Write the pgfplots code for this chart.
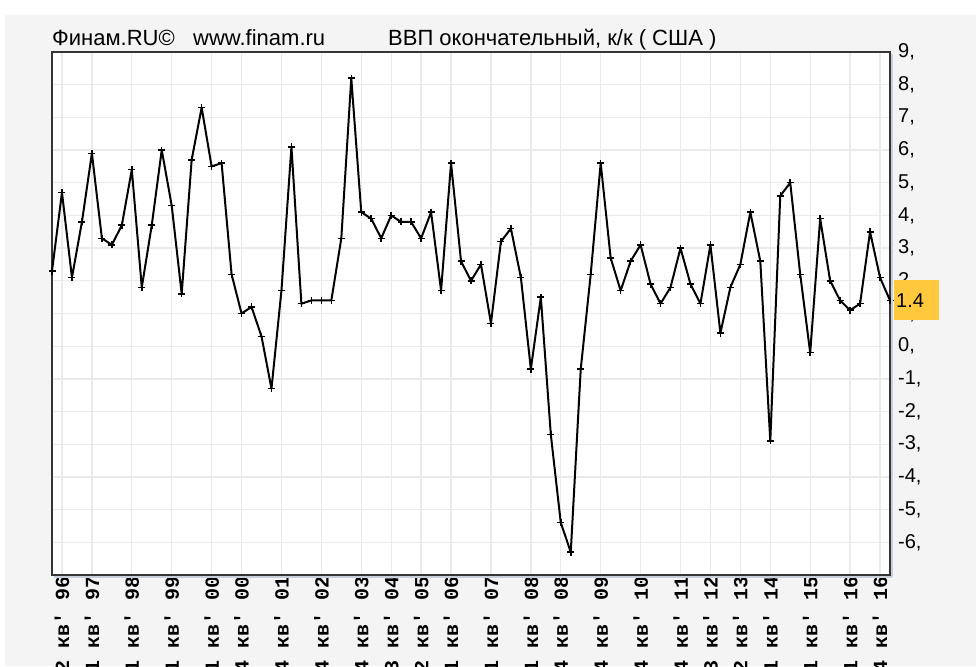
\documentclass[border=0pt]{standalone}
\usepackage{pgfplots}
\pgfplotsset{compat=1.18}
\usepackage{fontspec}
\setmainfont{Liberation Sans}
\newfontfamily\monof{Liberation Mono}
\definecolor{bg}{HTML}{F4F4F4}
\definecolor{gridc}{HTML}{EAEAEA}
\definecolor{framec}{HTML}{353535}
\definecolor{gold}{HTML}{FFC83D}
\definecolor{shadowc}{HTML}{C9CFD8}
\newcommand{\ql}[2]{#1 кв\textquotesingle\ #2}

\pgfplotstableread{
k v
0 2.3
1 4.7
2 2.1
3 3.8
4 5.9
5 3.3
6 3.1
7 3.7
8 5.4
9 1.8
10 3.7
11 6.0
12 4.3
13 1.6
14 5.7
15 7.3
16 5.5
17 5.6
18 2.2
19 1.0
20 1.2
21 0.3
22 -1.3
23 1.7
24 6.1
25 1.3
26 1.4
27 1.4
28 1.4
29 3.3
30 8.2
31 4.1
32 3.9
33 3.3
34 4.0
35 3.8
36 3.8
37 3.3
38 4.1
39 1.7
40 5.6
41 2.6
42 2.0
43 2.5
44 0.7
45 3.2
46 3.6
47 2.1
48 -0.7
49 1.5
50 -2.7
51 -5.4
52 -6.3
53 -0.7
54 2.2
55 5.6
56 2.7
57 1.7
58 2.6
59 3.1
60 1.9
61 1.3
62 1.8
63 3.0
64 1.9
65 1.3
66 3.1
67 0.4
68 1.8
69 2.5
70 4.1
71 2.6
72 -2.9
73 4.6
74 5.0
75 2.2
76 -0.2
77 3.9
78 2.0
79 1.4
80 1.1
81 1.3
82 3.5
83 2.1
84 1.4
}\gdp

\begin{document}
\begin{tikzpicture}[x=1pt,y=1pt]
\fill[white] (0,0) rectangle (976,666);
\fill[bg] (5,0) rectangle (976,651);
\node[anchor=base west, inner sep=0pt, font=\fontsize{22}{24}\selectfont] at (52,620) {Финам.RU\textcopyright\ \ \ www.finam.ru};
\node[anchor=base west, inner sep=0pt, font=\fontsize{22}{24}\selectfont] at (388,620) {ВВП окончательный, к/к ( США )};
\begin{axis}[
  at={(52pt,91pt)}, anchor=south west,
  scale only axis, width=838pt, height=523pt,
  xmin=0, xmax=84, ymin=-7, ymax=9,
  clip=false,
  axis background/.style={fill=white},
  axis line style={draw=framec, line width=1.6pt},
  xtick={1,4,8,12,16,19,23,27,31,34,37,40,44,48,51,55,59,63,66,69,72,76,80,83},
  xticklabels={{\ql{2}{96}},{\ql{1}{97}},{\ql{1}{98}},{\ql{1}{99}},{\ql{1}{00}},{\ql{4}{00}},{\ql{4}{01}},{\ql{4}{02}},{\ql{4}{03}},{\ql{3}{04}},{\ql{2}{05}},{\ql{1}{06}},{\ql{1}{07}},{\ql{1}{08}},{\ql{4}{08}},{\ql{4}{09}},{\ql{4}{10}},{\ql{4}{11}},{\ql{3}{12}},{\ql{2}{13}},{\ql{1}{14}},{\ql{1}{15}},{\ql{1}{16}},{\ql{4}{16}}},
  ytick={-6,...,9},
  yticklabels={{-6,},{-5,},{-4,},{-3,},{-2,},{-1,},{0,},{1,},{2,},{3,},{4,},{5,},{6,},{7,},{8,},{9,}},
  yticklabel pos=right,
  major tick length=0pt,
  grid=major,
  major grid style={draw=gridc, line width=1.3pt},
  xticklabel style={font=\monof\bfseries\fontsize{20}{20}\selectfont, rotate=90, anchor=east, inner sep=1pt},
  yticklabel style={font=\fontsize{20}{22}\selectfont, anchor=west, inner sep=0pt, xshift=8pt},
]
\addplot[black, line width=2pt, line join=round, mark=+, mark size=3.5pt, mark options={line width=1.5pt}] table[x=k, y=v] {\gdp};
\coordinate (lastpt) at (axis cs:84,1.4);
\end{axis}
\draw[shadowc, line width=2pt] (892,89) -- (892,612);
\draw[shadowc, line width=1.5pt] (54,89.2) -- (892,89.2);
\fill[gold] ([xshift=4pt,yshift=-20pt]lastpt) rectangle ([xshift=49pt,yshift=20pt]lastpt);
\node[anchor=west, inner sep=0pt, font=\fontsize{20}{22}\selectfont] at ([xshift=6pt]lastpt) {1.4};
\pgfresetboundingbox
\useasboundingbox (0,0) rectangle (976,666);
\end{tikzpicture}
\end{document}
